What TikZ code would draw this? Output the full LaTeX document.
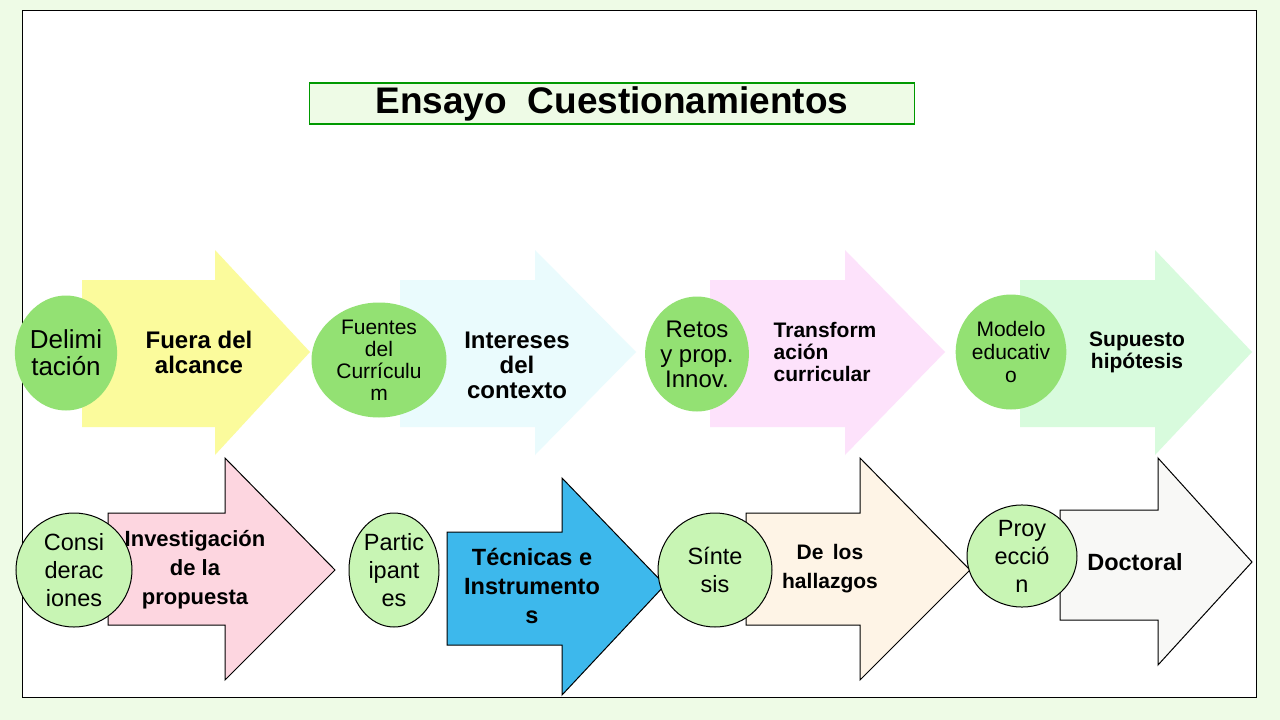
\documentclass[tikz,border=0pt]{standalone}
\usepackage{fontspec}
\setmainfont{Liberation Sans}
\usetikzlibrary{shapes.geometric}
\definecolor{fondo}{HTML}{EEFBE6}
\definecolor{verdeA}{HTML}{93E173}
\definecolor{verdeB}{HTML}{C8F5B4}
\definecolor{amarillo}{HTML}{FBFB9C}
\definecolor{celeste}{HTML}{EAFBFD}
\definecolor{rosa}{HTML}{FDE2FB}
\definecolor{menta}{HTML}{D8FBDD}
\definecolor{rosado}{HTML}{FDD6E0}
\definecolor{azul}{HTML}{3DB8EC}
\definecolor{crema}{HTML}{FEF4E6}
\definecolor{blanco}{HTML}{F8F8F6}
\tikzset{
  circA/.style = {ellipse, fill = verdeA, inner sep = 0pt, align = center, font = \fontsize{26}{27}\selectfont},
  circB/.style = {ellipse, fill = verdeB, draw = black, line width = 1pt, inner sep = 0pt, align = center, font = \fontsize{23.5}{28}\selectfont},
  texto/.style = {align = center, font = \bfseries\fontsize{24}{25}\selectfont},
  flechaB/.style = {draw = black, line width = 1pt}
}
\begin{document}
\begin{tikzpicture}[x = 1pt, y = -1pt]
        % Background
        \fill [fondo] (0, 0) rectangle (1280, 720);
        \draw [fill = white, line width = 1pt] (22, 10) rectangle (1256, 697);
        \useasboundingbox (0, 0) rectangle (1280, 720);

        % Title
        \node [draw = green!60!black, fill = fondo, line width = 1.2pt, minimum width = 605pt, minimum height = 41pt, font = \bfseries\fontsize{37}{40}\selectfont] (titulo) at (612, 103.5) {Ensayo \ Cuestionamientos};

        % Top arrows
        \fill [amarillo] (82, 280) -- (215, 280) -- (215, 250) -- (310, 352) -- (215, 455) -- (215, 427) -- (82, 427) -- cycle;
        \fill [celeste] (400, 280) -- (535, 280) -- (535, 250) -- (636, 352) -- (535, 455) -- (535, 427) -- (400, 427) -- cycle;
        \fill [rosa] (710, 280) -- (845, 280) -- (845, 250) -- (945, 352) -- (845, 455) -- (845, 427) -- (710, 427) -- cycle;
        \fill [menta] (1020, 280) -- (1155, 280) -- (1155, 250) -- (1252, 352) -- (1155, 455) -- (1155, 427) -- (1020, 427) -- cycle;

        % Bottom arrows
        \filldraw [flechaB, fill = rosado] (108, 513) -- (225, 513) -- (225, 458) -- (335, 570) -- (225, 680) -- (225, 625) -- (108, 625) -- cycle;
        \filldraw [flechaB, fill = azul] (447, 532) -- (562, 532) -- (562, 478) -- (665, 585) -- (562, 695) -- (562, 645) -- (447, 645) -- cycle;
        \filldraw [flechaB, fill = crema] (746, 513) -- (860, 513) -- (860, 458) -- (970, 570) -- (860, 680) -- (860, 625) -- (746, 625) -- cycle;
        \filldraw [flechaB, fill = blanco] (1060, 510) -- (1158, 510) -- (1158, 458) -- (1252, 562) -- (1158, 665) -- (1158, 620) -- (1060, 620) -- cycle;

        % Top circles
        \node [circA, minimum width = 90pt, minimum height = 115pt] (c1) at (66, 353) {Delimi\\tación};
        \node [circA, minimum width = 135pt, minimum height = 115pt, font = \fontsize{21}{22}\selectfont] (c2) at (379, 360) {Fuentes\\del\\Currículu\\m};
        \node [circA, minimum width = 92pt, minimum height = 115pt, font = \fontsize{24}{25}\selectfont] (c3) at (697, 354) {Retos\\y prop.\\Innov.};
        \node [circA, minimum width = 98pt, minimum height = 115pt, font = \fontsize{21}{23}\selectfont] (c4) at (1011, 352) {Modelo\\educativ\\o};

        % Bottom circles
        \node [circB, minimum width = 116pt, minimum height = 114pt] (c5) at (74, 570) {Consi\\derac\\iones};
        \node [circB, minimum width = 90pt, minimum height = 114pt] (c6) at (394, 570) {Partic\\ipant\\es};
        \node [circB, minimum width = 114pt, minimum height = 114pt] (c7) at (715, 570) {Sínte\\sis};
        \node [circB, minimum width = 110pt, minimum height = 100pt] (c8) at (1022, 556) {Proy\\ecció\\n};

        % Arrow texts
        \node [texto] (t1) at (199, 352) {Fuera del\\alcance};
        \node [texto] (t2) at (517, 365) {Intereses\\del\\contexto};
        \node [texto, align = left, font = \bfseries\fontsize{21}{22}\selectfont] (t3) at (825, 352) {Transform\\ación\\curricular};
        \node [texto, font = \bfseries\fontsize{21}{22}\selectfont] (t4) at (1137, 352) {Supuesto\\hipótesis};
        \node [texto, font = \bfseries\fontsize{22}{29}\selectfont] (t5) at (195, 570) {Investigación\\de la\\propuesta};
        \node [texto, font = \bfseries\fontsize{23.5}{29}\selectfont] (t6) at (532, 586) {Técnicas e\\Instrumento\\s};
        \node [texto, font = \bfseries\fontsize{21}{29}\selectfont] (t7) at (830, 569) {De \,los\\hallazgos};
        \node [texto, font = \bfseries\fontsize{23.5}{24}\selectfont] (t8) at (1135, 562) {Doctoral};

    \end{tikzpicture}
\end{document}
